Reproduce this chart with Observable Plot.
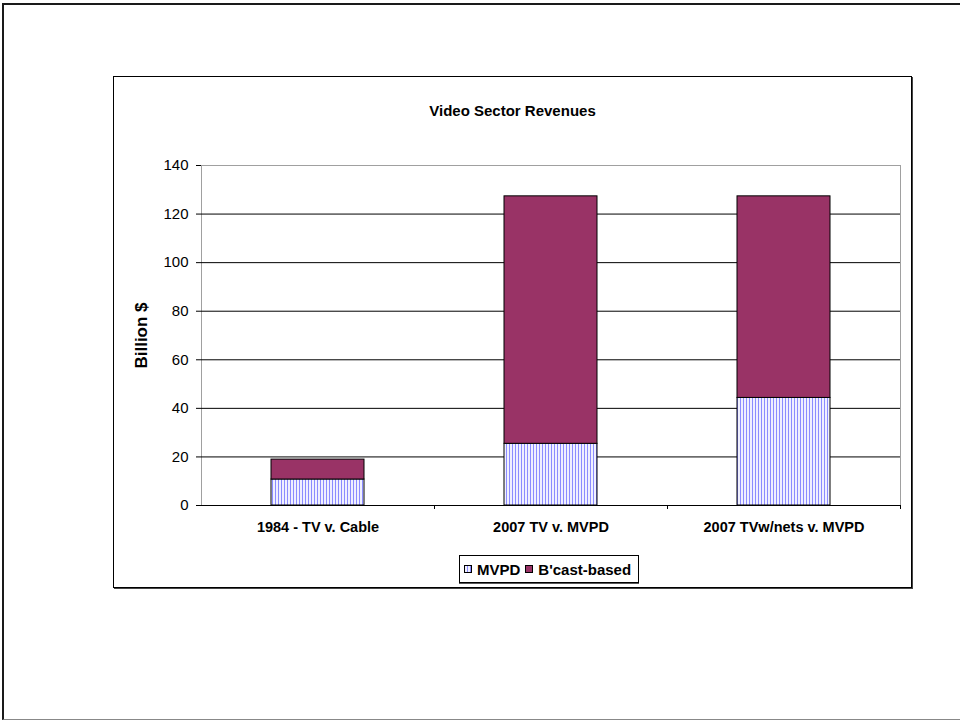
<!DOCTYPE html>
<html>
<head>
<meta charset="utf-8">
<script src="https://cdn.jsdelivr.net/npm/d3@7"></script>
<script src="https://cdn.jsdelivr.net/npm/@observablehq/plot@0.6"></script>
<style>
  html, body { margin: 0; padding: 0; background: #fff; }
  body { width: 960px; height: 721px; position: relative; overflow: hidden;
         font-family: "Liberation Sans", Arial, sans-serif; }
  #page { position: absolute; left: 2px; top: 3px; width: 980px; height: 717px;
          border-top: 2px solid #1a1a1a; border-left: 2px solid #1a1a1a;
          border-bottom: 1px solid #888; box-sizing: border-box; }
  #box { position: absolute; left: 113px; top: 76px; width: 799px; height: 512px;
         border: 1px solid #000; box-sizing: border-box; box-shadow: 1px 1px 0 #444; background: #fff; }
  #title { position: absolute; left: 113px; width: 799px; top: 102px; text-align: center;
           font-weight: bold; font-size: 15px; color: #000; }
  #chart { position: absolute; left: 113px; top: 150px; }
  #legend { position: absolute; left: 459px; top: 555px; width: 180px; height: 28px;
            border: 1px solid #000; box-sizing: border-box; box-shadow: 0 1px 0 #555;
            display: flex; align-items: center; font-weight: bold; font-size: 15px; color: #000;
            white-space: nowrap; }
  #legend .item { display: flex; align-items: center; flex: none; }
  #legend svg { display: block; }
</style>
</head>
<body>
<div id="page"></div>
<div id="box"></div>
<div id="title">Video Sector Revenues</div>
<div id="chart"></div>
<div id="legend"></div>
<script>
// Revenue by video sector, billions of dollars
const categories = ["1984 - TV v. Cable", "2007 TV v. MVPD", "2007 TVw/nets v. MVPD"];
const series = ["MVPD", "B'cast-based"];
const mvpd = [10.7, 25.4, 44.3];
const broadcast = [8.2, 101.9, 83.0];
const yTicks = [0, 20, 40, 60, 80, 100, 120, 140];
const gridTicks = [20, 40, 60, 80, 100, 120];

const fills = {"MVPD": "url(#mvpd-stripes)", "B'cast-based": "#993366"};

const rows = categories.flatMap((c, i) => [
  {category: c, series: series[0], value: mvpd[i]},
  {category: c, series: series[1], value: broadcast[i]}
]);

const font = "'Liberation Sans', Arial, sans-serif";

const chart = Plot.plot({
  width: 790,
  height: 390,
  marginLeft: 88,
  marginRight: 3,
  marginTop: 15,
  marginBottom: 35,
  style: {fontFamily: font, color: "#000", background: "transparent", overflow: "visible"},
  x: {domain: categories, paddingInner: 0.6, paddingOuter: 0.3, label: null},
  y: {domain: [0, 140], label: null},
  color: {type: "identity"},
  marks: [
    Plot.frame({stroke: "#a0a0a0"}),
    Plot.gridY(gridTicks, {stroke: "#000", strokeOpacity: 1}),
    Plot.barY(rows, Plot.stackY({
      x: "category", y: "value", z: "series",
      fill: d => fills[d.series], stroke: "#000", strokeWidth: 1
    })),
    Plot.ruleX([0], {frameAnchor: "left", stroke: "#000"}),
    Plot.ruleY([0], {stroke: "#000"}),
    Plot.axisY({ticks: yTicks, tickSize: 5, tickPadding: 8, fontSize: 15, label: null, stroke: "#000"}),
    Plot.axisX({ticks: categories, tickSize: 0, tickPadding: 16, fontSize: 14.5, fontWeight: "bold", label: null}),
    Plot.axisX({ticks: categories, tickSize: 4, text: null, dx: 116.5, label: null, stroke: "#000"}),
    Plot.text(["Billion $"], {text: d => d, frameAnchor: "left", textAnchor: "middle", dx: -60, rotate: -90,
      fontSize: 17, fontWeight: "bold", fill: "#000"})
  ]
});

// Vertical stripe pattern used for the MVPD segments
const ns = "http://www.w3.org/2000/svg";
const defs = document.createElementNS(ns, "defs");
defs.innerHTML = `
  <pattern id="mvpd-stripes" patternUnits="userSpaceOnUse" width="3" height="3">
    <rect width="3" height="3" fill="#f0f0ff"></rect>
    <rect x="0" width="1" height="3" fill="#8c8cff"></rect>
  </pattern>`;
chart.insertBefore(defs, chart.firstChild);
document.getElementById("chart").appendChild(chart);

// Legend
const legend = document.getElementById("legend");
series.forEach((s, i) => {
  const item = document.createElement("div");
  item.className = "item";
  item.style.marginLeft = i === 0 ? "4px" : "5px";
  item.innerHTML = `<svg width="8" height="8"><rect x="0.5" y="0.5" width="7" height="7" fill="${fills[s]}" stroke="#000"></rect></svg>`
    + `<span style="margin-left:5px">${s}</span>`;
  legend.appendChild(item);
});
</script>
</body>
</html>
